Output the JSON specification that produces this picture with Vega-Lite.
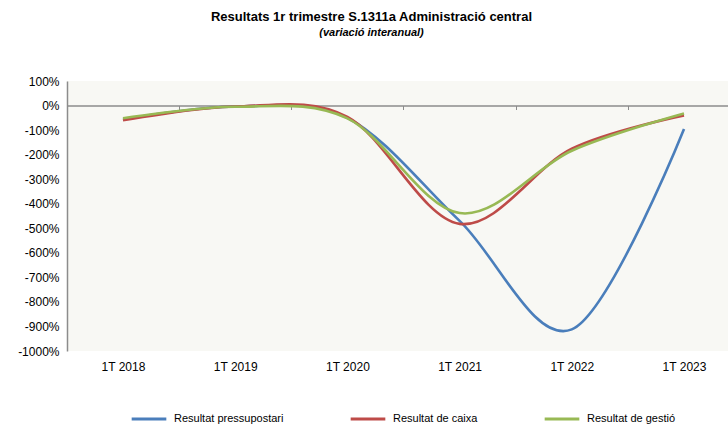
{
  "$schema": "https://vega.github.io/schema/vega-lite/v6.json",
  "width": 661,
  "height": 270,
  "autosize": {"type": "none"},
  "padding": {"left": 67, "top": 81, "right": 0, "bottom": 79},
  "background": "white",
  "view": {"fill": "#f8f8f4", "stroke": null},
  "title": {
    "text": "Resultats 1r trimestre S.1311a Administració central",
    "subtitle": "(variació interanual)",
    "font": "Liberation Sans",
    "fontSize": 13,
    "fontWeight": "bold",
    "color": "#000000",
    "subtitleFont": "Liberation Sans",
    "subtitleFontSize": 11,
    "subtitleFontStyle": "italic",
    "subtitleFontWeight": "bold",
    "subtitleColor": "#000000",
    "subtitlePadding": 3,
    "anchor": "middle",
    "dx": -26,
    "offset": 37
  },
  "data": {
    "values": [
      {"period": "1T 2018", "series": "Resultat pressupostari", "value": -56},
      {"period": "1T 2019", "series": "Resultat pressupostari", "value": -4},
      {"period": "1T 2020", "series": "Resultat pressupostari", "value": -50},
      {"period": "1T 2021", "series": "Resultat pressupostari", "value": -470},
      {"period": "1T 2022", "series": "Resultat pressupostari", "value": -912},
      {"period": "1T 2023", "series": "Resultat pressupostari", "value": -96},
      {"period": "1T 2018", "series": "Resultat de caixa", "value": -60},
      {"period": "1T 2019", "series": "Resultat de caixa", "value": -4},
      {"period": "1T 2020", "series": "Resultat de caixa", "value": -46},
      {"period": "1T 2021", "series": "Resultat de caixa", "value": -482},
      {"period": "1T 2022", "series": "Resultat de caixa", "value": -176},
      {"period": "1T 2023", "series": "Resultat de caixa", "value": -40},
      {"period": "1T 2018", "series": "Resultat de gestió", "value": -52},
      {"period": "1T 2019", "series": "Resultat de gestió", "value": -5},
      {"period": "1T 2020", "series": "Resultat de gestió", "value": -52},
      {"period": "1T 2021", "series": "Resultat de gestió", "value": -438},
      {"period": "1T 2022", "series": "Resultat de gestió", "value": -184},
      {"period": "1T 2023", "series": "Resultat de gestió", "value": -32}
    ]
  },
  "encoding": {
    "y": {
      "field": "value",
      "type": "quantitative",
      "scale": {"domain": [-1000, 100], "nice": false, "zero": false},
      "axis": {
        "title": null,
        "values": [100, 0, -100, -200, -300, -400, -500, -600, -700, -800, -900, -1000],
        "labelExpr": "datum.value + '%'",
        "labelFont": "Liberation Sans",
        "labelFontSize": 12,
        "labelColor": "#000000",
        "labelPadding": 8,
        "ticks": false,
        "grid": false,
        "domain": true,
        "domainColor": "#8c8c8c",
        "domainWidth": 1.5
      }
    }
  },
  "layer": [
    {
      "mark": {"type": "line", "opacity": 0},
      "encoding": {
        "x": {
          "field": "period",
          "type": "ordinal",
          "scale": {"type": "point", "padding": 0.4455, "align": 0.56},
          "axis": {
            "title": null,
            "orient": "bottom",
            "offset": -245.5,
            "labels": false,
            "domain": true,
            "domainColor": "#8c8c8c",
            "domainWidth": 1.5,
            "ticks": true,
            "tickColor": "#8c8c8c",
            "tickSize": 4,
            "tickWidth": 1,
            "tickOffset": 56,
            "grid": false
          }
        },
        "detail": {"field": "series"}
      }
    },
    {
      "mark": {"type": "line", "interpolate": "cardinal", "strokeWidth": 2.6},
      "encoding": {
        "x": {
          "field": "period",
          "type": "ordinal",
          "axis": {
            "title": null,
            "orient": "bottom",
            "labelAngle": 0,
            "labelFont": "Liberation Sans",
            "labelFontSize": 12,
            "labelColor": "#000000",
            "labelPadding": 10,
            "ticks": false,
            "domain": false,
            "grid": false
          }
        },
        "color": {
          "field": "series",
          "type": "nominal",
          "sort": ["Resultat pressupostari", "Resultat de caixa", "Resultat de gestió"],
          "scale": {
            "domain": ["Resultat pressupostari", "Resultat de caixa", "Resultat de gestió"],
            "range": ["#4a7ebb", "#be4b48", "#98b954"]
          },
          "legend": {
            "title": null,
            "orient": "none",
            "legendX": 63,
            "legendY": 319,
            "direction": "horizontal",
            "symbolType": "stroke",
            "symbolSize": 1200,
            "symbolStrokeWidth": 3,
            "labelFont": "Liberation Sans",
            "labelFontSize": 11,
            "labelColor": "#000000",
            "columnPadding": 60,
            "labelOffset": 6,
            "padding": 0
          }
        }
      }
    }
  ],
  "resolve": {"axis": {"x": "independent"}}
}
